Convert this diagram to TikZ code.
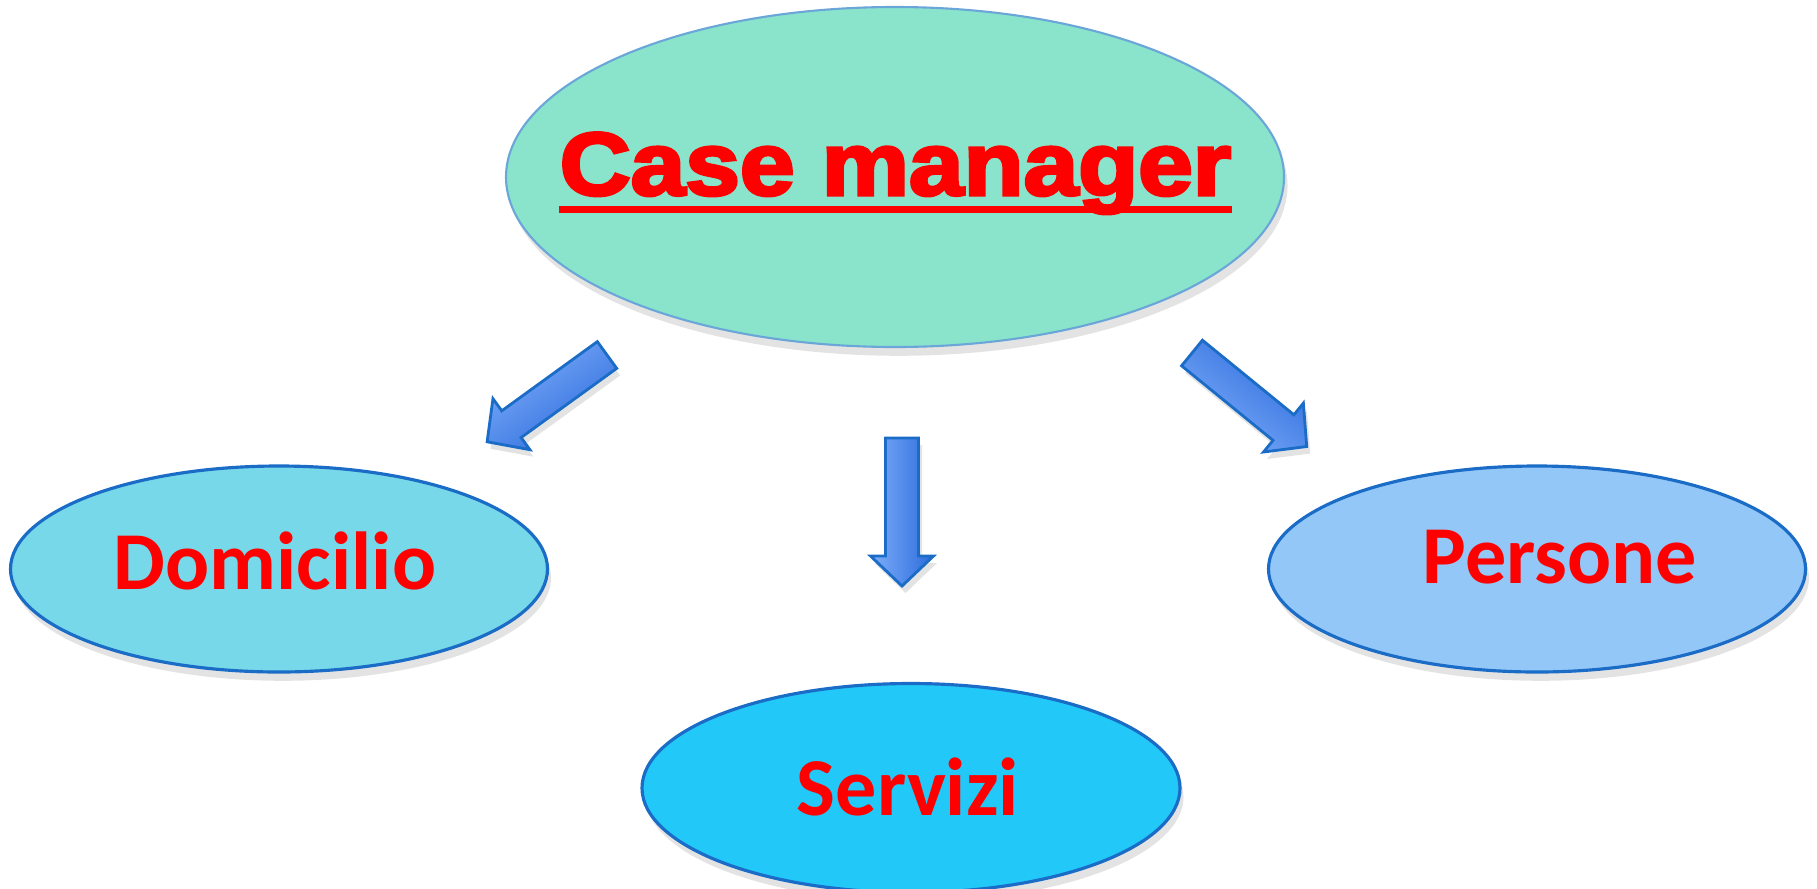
\documentclass[tikz,border=0pt]{standalone}
\usepackage{fontspec}
\usetikzlibrary{shapes.geometric,shadows}
\newfontfamily\heavyfont{Liberation Sans}[FakeBold=3.5]
\newfontfamily\labelfont{Carlito}
\definecolor{mintfill}{HTML}{8AE4CC}
\definecolor{mintline}{HTML}{6AA6D8}
\definecolor{homefill}{HTML}{76D8E8}
\definecolor{servfill}{HTML}{22C8F8}
\definecolor{peoplefill}{HTML}{93C7F7}
\definecolor{bubbleline}{HTML}{1A6CC6}
\definecolor{wordred}{HTML}{FF0000}
\definecolor{arrowlight}{HTML}{7EAEFA}
\definecolor{arrowdark}{HTML}{2C6BDC}
\tikzset{
  bubble/.style={ellipse, draw=bubbleline, line width=0.9pt, inner sep=0pt,
    drop shadow={shadow xshift=1pt, shadow yshift=-2.5pt, opacity=0.22}},
  word/.style={text=wordred, font=\labelfont\bfseries\fontsize{23.4}{28}\selectfont,
    inner sep=0pt, anchor=base},
  shadeangle/.store in=\shadeangle, shadeangle=0,
  blockarrow/.pic={
    \draw[bubbleline, line width=0.8pt, top color=arrowdark, bottom color=arrowlight,
      shading angle=\shadeangle,
      drop shadow={shadow xshift=1pt, shadow yshift=-2pt, opacity=0.22}]
      (0,0.165) -- (1.18,0.165) -- (1.18,0.315) -- (1.48,0)
      -- (1.18,-0.315) -- (1.18,-0.165) -- (0,-0.165) -- cycle;
  }
}
\begin{document}
\begin{tikzpicture}
  \useasboundingbox (0,0) rectangle (18.17,8.88);
  % bubbles
  \node[bubble, draw=mintline, line width=0.6pt, fill=mintfill,
    minimum width=7.78cm, minimum height=3.40cm] (cm) at (8.95,7.11) {};
  \node[bubble, fill=homefill, minimum width=5.37cm, minimum height=2.06cm] (home) at (2.79,3.19) {};
  \node[bubble, fill=servfill, minimum width=5.38cm, minimum height=2.09cm] (serv) at (9.11,1.00) {};
  \node[bubble, fill=peoplefill, minimum width=5.37cm, minimum height=2.06cm] (people) at (15.37,3.19) {};
  % texts
  \node[word, font=\heavyfont\bfseries\fontsize{25.4}{30}\selectfont] (cmtext) at (8.955,6.93)
    {\scalebox{1.1}[1]{Case manager}};
  \draw[wordred, line width=2pt] ([yshift=-4pt]cmtext.base west) -- ([yshift=-4pt]cmtext.base east);
  \node[word] (hometext) at (2.75,2.99) {Domicilio};
  \node[word] (servtext) at (9.08,0.73) {Servizi};
  \node[word] (peopletext) at (15.60,3.05) {Persone};
  % arrows
  \foreach \ang/\px/\py in {215.9/6.07/5.33, -90/9.02/4.50, -39.2/11.92/5.35}
    \pic[rotate=\ang, shadeangle=\ang] at (\px,\py) {blockarrow};
\end{tikzpicture}
\end{document}
